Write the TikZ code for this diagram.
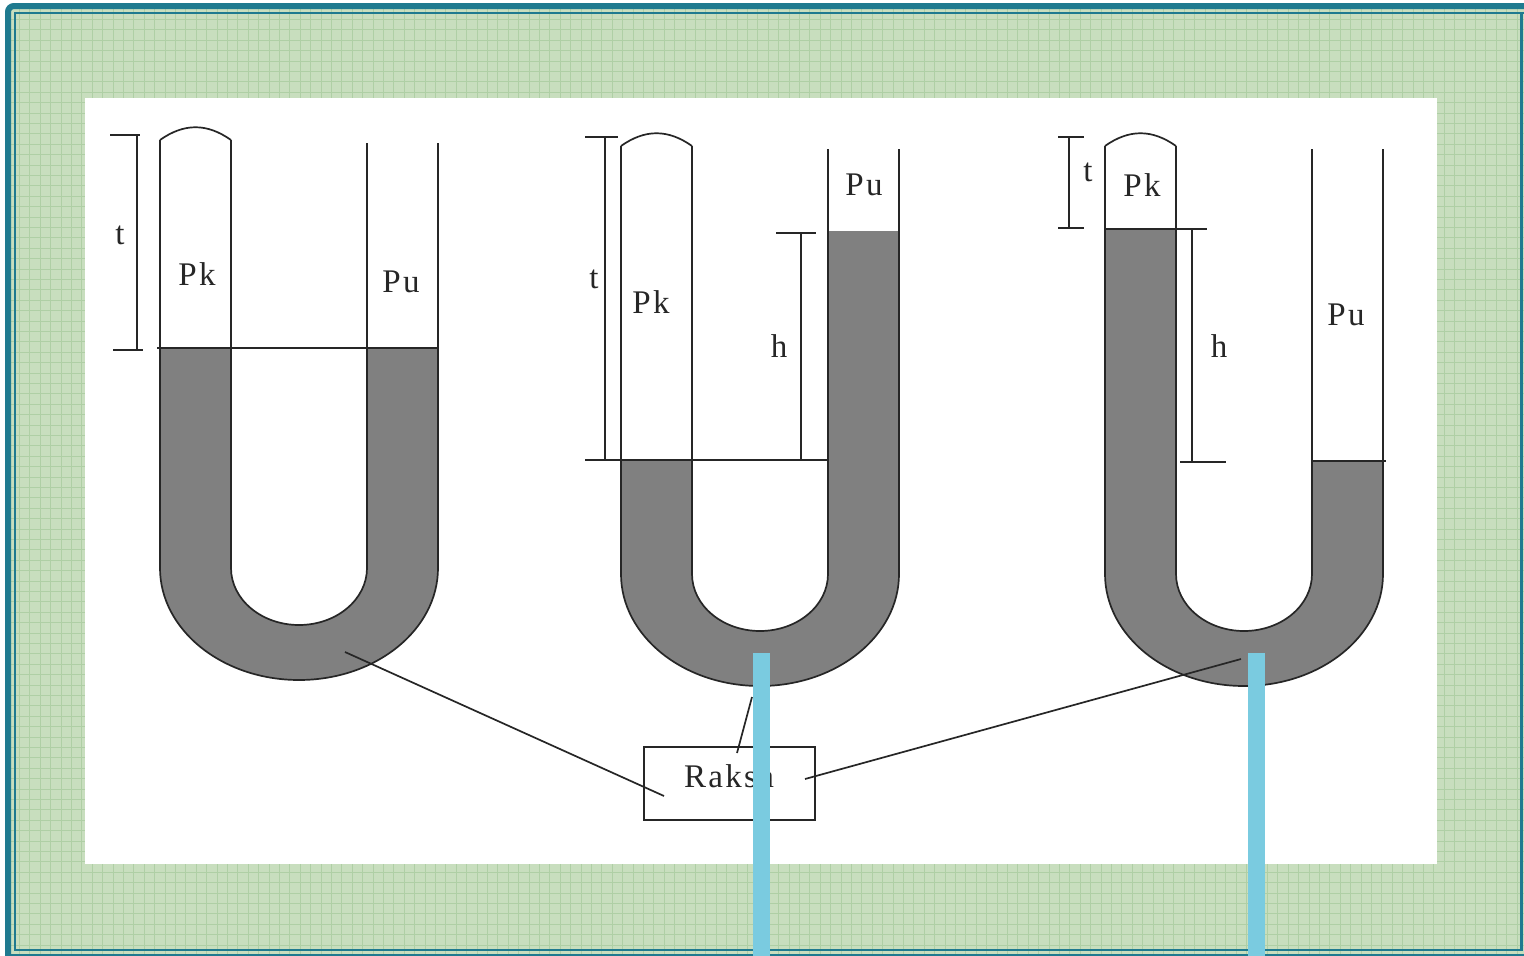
\documentclass[tikz,border=0pt]{standalone}
\usepackage{fontspec}
\setmainfont{Liberation Serif}
\definecolor{teal1}{HTML}{1F7A8F}
\definecolor{bgg}{HTML}{C8DEBE}
\definecolor{gridg}{HTML}{AFCFA5}
\definecolor{merc}{HTML}{808080}
\definecolor{barb}{HTML}{7ACBE0}
\tikzset{
  wire/.style={draw=black!85,line width=1.7pt},
  lbl/.style={font=\fontsize{33}{33}\selectfont\addfontfeature{LetterSpace=7},inner sep=0pt,text=black!85},
  bar/.style={fill=barb,draw=none}
}
\newcommand{\utube}[8]{%
  % #1 cx, #2 left level, #3 right level, #4 outer arc y, #5 inner arc y, #6 left-top, #7 right-top, #8 dome height
  \path[fill=merc,draw=none]
    (#1-139,#2) -- (#1-139,#4) arc[start angle=180,end angle=0,x radius=139,y radius=112]
    -- (#1+139,#3) -- (#1+68,#3) -- (#1+68,#5)
    arc[start angle=0,end angle=180,x radius=68,y radius=57] -- (#1-68,#2) -- cycle;
  \draw[wire] (#1-139,#6) -- (#1-139,#4) arc[start angle=180,end angle=0,x radius=139,y radius=112] -- (#1+139,#7);
  \draw[wire] (#1-68,#6) -- (#1-68,#5) arc[start angle=180,end angle=0,x radius=68,y radius=57] -- (#1+68,#7);
  \draw[wire] (#1-139,#6) .. controls (#1-115,#6-#8-4) and (#1-92,#6-#8-4) .. (#1-68,#6);
}
\begin{document}
\begin{tikzpicture}[x=1pt,y=-1pt]
\useasboundingbox (0,0) rectangle (1524,956);
\fill[white] (0,0) rectangle (1524,956);
% frame
\fill[bgg] (8,6) rectangle (1524,954);
\begin{scope}
\clip (8,6) rectangle (1524,954);
\foreach \gx in {0,...,146} {\pgfmathsetmacro{\px}{round(19+10.4*\gx)}\fill[gridg] (\px,6) rectangle (\px+1,954);}
\foreach \gy in {0,...,92} {\pgfmathsetmacro{\py}{round(19+10.4*\gy)}\fill[gridg] (8,\py) rectangle (1524,\py+1);}
\end{scope}
\draw[teal1,line width=6pt,rounded corners=6pt] (1524,6) -- (8,6) -- (8,956);
\draw[teal1,line width=2.5pt] (1524,13) -- (15,13) -- (15,950) -- (1521.5,950) -- (1521.5,13);
\fill[teal1] (8,953.5) rectangle (1524,956);
% white panel
\fill[white] (85,98) rectangle (1437,864);
% tubes
\utube{299}{348}{348}{568}{568}{140}{143}{13}
\utube{760}{460}{231}{574}{574}{146}{149}{13}
\utube{1244}{229}{461}{574}{574}{146}{149}{13}
% level lines and dimensions
\coordinate (a1) at (157,348); \coordinate (a2) at (438,348);
\draw[wire] (a1) -- (a2);
\coordinate (b1) at (585,460); \coordinate (b2) at (828,460);
\draw[wire] (b1) -- (b2);
\coordinate (c1) at (1105,229); \coordinate (c2) at (1207,229);
\draw[wire] (c1) -- (c2);
\coordinate (c3) at (1312,461); \coordinate (c4) at (1386,461);
\draw[wire] (c3) -- (c4);
\draw[wire] (110,135) -- (140,135) (137,135) -- (137,350) (113,350) -- (143,350);
\draw[wire] (585,137) -- (618,137) (605,137) -- (605,460);
\draw[wire] (776,233) -- (816,233) (801,233) -- (801,460);
\draw[wire] (1058,137) -- (1084,137) (1069,137) -- (1069,228) (1058,228) -- (1084,228);
\draw[wire] (1192,229) -- (1192,462) (1180,462) -- (1226,462);
% labels
\node[lbl] (t1) at (120,235) {t};
\node[lbl] (pk1) at (197,274) {Pk};
\node[lbl] (pu1) at (401,282) {Pu};
\node[lbl] (t2) at (594,279) {t};
\node[lbl] (pk2) at (651,302) {Pk};
\node[lbl] (pu2) at (864,185) {Pu};
\node[lbl] (h2) at (779,346) {h};
\node[lbl] (t3) at (1088,172) {t};
\node[lbl] (pk3) at (1142,185) {Pk};
\node[lbl] (pu3) at (1346,315) {Pu};
\node[lbl] (h3) at (1219,346) {h};
% Raksa box and connectors
\node[wire,outer sep=0pt,inner sep=0pt,minimum width=171pt,minimum height=73pt,anchor=north west] (raksa) at (644,747) {};
\node[lbl,anchor=center] (raksat) at (729,776) {Raksa};
\coordinate (e1) at (664,796); \coordinate (s1) at (345,652);
\coordinate (e2) at (737,753); \coordinate (s2) at (752,697);
\coordinate (e3) at (805,779); \coordinate (s3) at (1241,659);
\draw[wire] (s1) -- (e1);
\draw[wire] (s2) -- (e2);
\draw[wire] (s3) -- (e3);
% blue bars
\path[bar] (753,653) rectangle (770,956);
\path[bar] (1248,653) rectangle (1265,956);
\end{tikzpicture}
\end{document}
